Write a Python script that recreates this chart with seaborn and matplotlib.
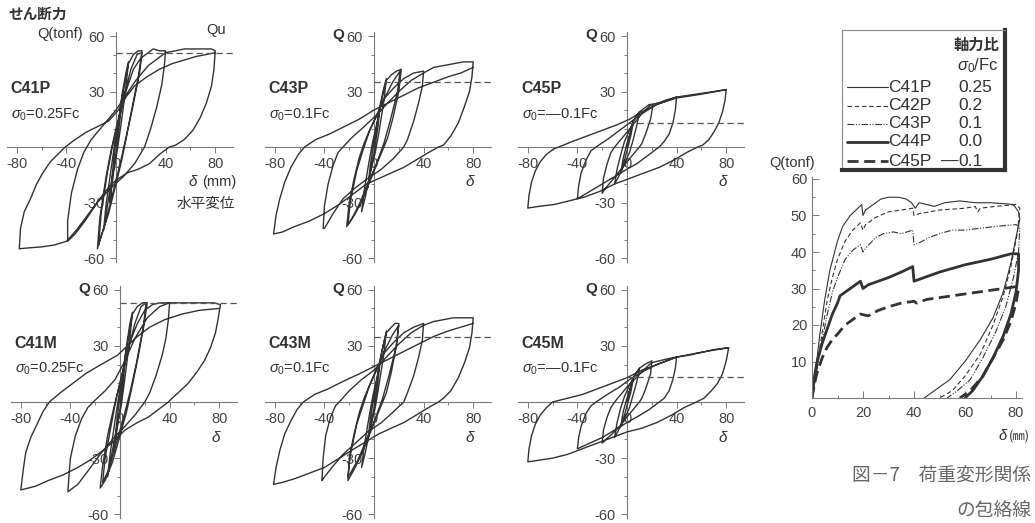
import matplotlib
matplotlib.use("Agg")
import matplotlib.pyplot as plt
import seaborn as sns
import pandas as pd
from matplotlib.ticker import MultipleLocator, FixedLocator

# ---------------- data (hysteresis paths: (delta mm, Q tonf)) ----------------
C41P_path = [(0,0),(2,12),(5,28),(3,14),(0,-4),(-2,-14),(-5,-30),(-3,-15),(0,4),(2,14),(5,29),
    (8,40),(10,46),(8,32),(4,12),(1,-2),(-3,-16),(-7,-32),(-10,-45),(-8,-31),(-4,-12),(-1,2),(3,16),(7,34),(10,45),
    (14,50),(18,52),(21,52),(18,38),(12,18),(8,4),(5,-6),(0,-20),(-6,-36),(-12,-48),(-15,-55),(-13,-38),(-8,-16),
    (-4,-2),(0,10),(6,26),(12,42),(17,50),(21,51),(19,40),(13,20),(8,5),(3,-10),(-3,-26),(-9,-42),(-14,-53),
    (-12,-36),(-7,-14),(-3,0),(2,14),(8,30),
    (14,42),(20,48),(26,51),(30,53),(35,52),(40,52),(39,44),(37,34),(33,22),(28,10),(23,0),(15,-9),(6,-16),
    (-4,-22),(-15,-30),(-25,-40),(-33,-47),(-39,-51),(-39,-40),(-36,-25),(-31,-12),(-26,-3),(-20,4),(-10,12),
    (0,20),(8,28),(16,36),(26,44),(34,48),(40,51),
    (48,52),(55,53),(62,53),(70,53),(77,53),(80,52),(79,42),(77,33),(73,24),(68,16),(62,9),(55,4),(48,1),(43,0),
    (35,-4),(27,-9),(18,-12),(9,-14),(0,-18),(-5,-21),(-13,-28),(-22,-36),(-32,-45),(-40,-51),(-50,-53),
    (-60,-54),(-70,-54.5),(-78,-55),(-77,-44),(-74,-35),(-69,-28),(-64,-20),(-59,-14),(-53,-8),(-47,-4),
    (-41,0),(-33,4),(-24,8),(-15,11),(-6,14),(2,20),(8,27),(15,33),(25,38),(35,42),(45,45),(55,47),(65,49),
    (73,50),(80,51)]

C43P_path = [(0,0),(2,10),(5,22),(3,10),(0,-3),(-2,-10),(-5,-22),(-3,-10),(0,3),(3,14),(5,23),
    (8,32),(10,37),(8,25),(4,8),(1,-3),(-3,-14),(-7,-27),(-10,-35),(-8,-24),(-4,-8),(-1,3),(3,15),(7,28),(10,36),
    (14,39),(18,41),(22,42),(20,30),(15,15),(11,5),(8,0),(3,-8),(-3,-18),(-9,-28),(-15,-36),(-20,-41),(-22,-43),
    (-20,-30),(-16,-17),(-12,-6),(-8,2),(-3,10),(3,18),(9,27),(15,35),(21,41),(19,30),(13,14),(8,2),(2,-9),
    (-5,-20),(-12,-31),(-18,-39),(-21,-42),(-19,-29),(-14,-13),(-9,-2),(-4,8),(2,17),(8,26),
    (16,32),(24,37),(32,40),(40,41),(39,33),(36,24),(32,14),(27,4),(24,0),(16,-6),(6,-12),(-5,-17),(-15,-22),
    (-25,-28),(-33,-36),(-40,-44),(-41,-44),(-40,-32),(-37,-20),(-33,-10),(-29,-3),(-25,0),(-18,5),(-8,11),
    (0,16),(10,23),(20,30),(30,36),(40,40),
    (48,43),(56,44),(64,45),(72,46),(80,46),(79,38),(77,30),(73,22),(68,13),(62,6),(56,1),(52,0),(44,-3),
    (34,-7),(24,-11),(14,-14),(4,-17),(-6,-20),(-16,-25),(-28,-31),(-40,-36),(-52,-40),(-64,-43),(-74,-46),
    (-81,-47),(-79,-37),(-76,-28),(-72,-19),(-67,-11),(-61,-4),(-56,0),(-47,4),(-36,7),(-24,11),(-12,15),
    (0,20),(12,24),(24,28),(36,32),(48,35),(60,38),(70,40),(80,43)]

C45P_path = [(0,0),(2,6),(5,13),(3,6),(0,-2),(-2,-7),(-5,-14),(-3,-6),(0,2),(3,8),(5,14),
    (8,17),(10,19),(8,12),(5,4),(2,-3),(-2,-9),(-6,-15),(-10,-20),(-8,-12),(-5,-4),(-2,3),(2,9),(6,15),(10,19),
    (14,21),(18,23),(21,23),(19,15),(15,7),(12,2),(10,0),(5,-4),(0,-8),(-6,-13),(-12,-18),(-17,-22),(-20,-25),
    (-19,-17),(-16,-9),(-13,-3),(-10,0),(-5,4),(0,8),(6,13),(12,18),(18,22),(20,23),
    (26,24),(32,25.5),(40,27),(39,20),(37,13),(34,7),(30,3),(26,0),(18,-4),(8,-9),(0,-12),(-10,-16),(-20,-20),
    (-30,-24),(-40,-28),(-39,-21),(-37,-14),(-33,-7),(-29,-2),(-25,0),(-16,4),(-6,9),(2,13),(12,18),(24,23),
    (32,25),(40,27),
    (50,28),(60,29),(70,30),(80,31),(79,25),(77,19),(74,13),(70,8),(66,4),(61,1),(57,0),(48,-3),(38,-7),
    (26,-11),(14,-14),(2,-17),(-10,-20),(-22,-24),(-34,-27),(-46,-29),(-58,-31),(-70,-32),(-80,-33),(-79,-26),
    (-77,-19),(-74,-13),(-70,-8),(-65,-4),(-59,-1),(-55,0),(-44,3),(-32,6),(-20,9),(-8,12),(2,15),(12,19),
    (24,23),(40,26.5),(55,28),(68,29.5),(80,31)]

C41M_path = [(0,0),(2,12),(5,28),(3,14),(0,-4),(-2,-13),(-5,-27),(-3,-13),(0,4),(2,14),(5,29),
    (8,42),(10,48),(8,34),(4,13),(1,-2),(-3,-15),(-7,-29),(-10,-40),(-8,-28),(-4,-10),(-1,3),(3,17),(7,35),(10,47),
    (14,51),(18,53),(22,53),(19,40),(14,22),(9,6),(5,-6),(0,-18),(-6,-32),(-12,-42),(-16,-46),(-14,-34),
    (-10,-18),(-5,-3),(0,10),(6,26),(12,42),(17,51),(21,53),(19,41),(13,20),(8,5),(3,-8),(-3,-22),(-9,-36),
    (-14,-43),(-12,-30),(-7,-12),(-3,2),(2,16),(8,32),
    (14,42),(20,49),(26,52),(32,53),(40,53),(39,44),(37,34),(34,25),(29,14),(24,5),(20,0),(12,-7),(4,-13),
    (-6,-20),(-16,-28),(-26,-37),(-34,-44),(-42,-48),(-41,-38),(-40,-30),(-36,-18),(-31,-9),(-26,-3),(-20,1),
    (-12,6),(-4,12),(4,22),(12,34),(22,45),(32,51),(40,53),
    (50,53),(60,53),(70,53),(76,53),(81,52),(79,44),(77,37),(73,29),(68,22),(62,16),(55,10),(47,5),(42,2),
    (39,0),(31,-4),(23,-8),(14,-11),(4,-15),(-5,-21),(-14,-26),(-24,-31),(-34,-35),(-46,-39),(-58,-42),
    (-68,-45),(-80,-47),(-78,-36),(-76,-27),(-72,-19),(-67,-12),(-62,-5),(-57,0),(-48,5),(-38,10),(-28,15),
    (-18,19),(-10,22),(-2,25),(6,30),(14,35),(24,40),(36,44),(50,47),(64,49),(80,50)]

C43M_path = [(0,0),(2,10),(5,22),(3,10),(0,-3),(-2,-10),(-5,-21),(-3,-9),(0,3),(3,14),(5,23),
    (8,32),(10,38),(8,26),(4,9),(1,-3),(-3,-14),(-7,-27),(-10,-35),(-8,-24),(-4,-8),(-1,3),(3,15),(7,29),(10,37),
    (14,40),(17,42),(20,42),(18,30),(14,16),(10,5),(7,0),(2,-8),(-4,-18),(-10,-28),(-16,-36),(-21,-42),
    (-20,-30),(-16,-17),(-12,-6),(-8,2),(-3,10),(3,19),(9,28),(15,36),(20,41),(18,30),(12,14),(7,2),(1,-9),
    (-6,-20),(-13,-31),(-19,-38),(-21,-40),(-19,-28),(-14,-12),(-9,-2),(-4,8),(2,17),(8,26),
    (16,32),(24,37),(32,40),(40,42),(39,33),(36,24),(32,14),(27,5),(24,0),(16,-5),(6,-11),(-5,-16),(-15,-22),
    (-25,-28),(-34,-35),(-41,-41),(-42,-42),(-41,-30),(-39,-18),(-35,-8),(-31,-2),(-28,0),(-20,6),(-10,12),
    (0,17),(10,24),(20,31),(30,37),(40,41),
    (48,43),(56,44),(64,45),(72,45),(80,45),(79,37),(77,29),(73,21),(68,13),(62,6),(56,2),(52,0),(44,-3),
    (34,-7),(24,-11),(14,-14),(4,-17),(-6,-21),(-16,-25),(-28,-30),(-40,-35),(-52,-38),(-64,-41),(-74,-43),
    (-81,-44),(-79,-35),(-76,-26),(-72,-17),(-67,-10),(-62,-4),(-57,0),(-48,4),(-37,7),(-25,11),(-12,15),
    (0,19),(12,23),(24,27),(36,31),(48,35),(60,38),(70,40),(80,42)]

C45M_path = [(0,0),(2,6),(5,12),(3,5),(0,-2),(-2,-7),(-5,-13),(-3,-5),(0,2),(3,8),(5,13),
    (8,16),(10,18),(8,11),(5,4),(2,-3),(-2,-9),(-6,-14),(-10,-19),(-8,-11),(-5,-3),(-2,3),(2,9),(6,14),(10,18),
    (14,20),(17,21),(20,22),(19,15),(15,7),(12,2),(10,0),(5,-4),(0,-8),(-6,-13),(-12,-17),(-17,-20),(-20,-22),
    (-19,-15),(-16,-8),(-13,-3),(-10,0),(-5,4),(0,8),(6,12),(12,16),(18,20),(20,21),
    (26,22),(32,23),(40,24),(39,18),(37,12),(34,6),(30,2),(26,0),(18,-4),(8,-8),(0,-11),(-10,-15),(-20,-19),
    (-30,-22),(-40,-25),(-39,-19),(-37,-13),(-33,-6),(-29,-2),(-25,0),(-16,4),(-6,8),(2,12),(12,16),(24,20),
    (32,22),(40,24),
    (50,25),(60,26.5),(70,28),(82,29),(80,22),(77,15),(73,10),(68,6),(62,2),(56,0),(46,-3),(36,-7),(24,-11),
    (12,-14),(0,-16),(-12,-19),(-24,-22),(-36,-25),(-48,-28),(-60,-30),(-70,-31),(-80,-32),(-79,-25),(-77,-18),
    (-74,-12),(-70,-7),(-65,-3),(-60,0),(-48,2),(-36,4),(-24,7),(-12,10),(0,13),(12,17),(24,20),(40,24),
    (55,26),(68,27.5),(82,29)]

panel_names = ["C41P", "C43P", "C45P", "C41M", "C43M", "C45M"]
panel_sigma = ["=0.25Fc", "=0.1Fc", "=\u20140.1Fc", "=0.25Fc", "=0.1Fc", "=\u20140.1Fc"]
panel_qu = [51, 35, 13, 53, 35, 13.5]
panel_paths = [C41P_path, C43P_path, C45P_path, C41M_path, C43M_path, C45M_path]

# envelope curves (right chart)
env_names = ["C41P", "C42P", "C43P", "C44P", "C45P"]
env_ratio = ["0.25", "0.2", "0.1", "0.0", "\u20140.1"]
C41P_env = [(0,0),(1,5),(2,11),(3,17),(5,27),(7,35),(10,43),(12,47),(15,50),(18,52),(19.5,53),(20,50),(21,51.5),
    (24,53),(27,54.5),(30,55),(34,55),(37,54.5),(39,53.5),(40.5,52),(42,53.5),(45,53),(48,52.5),(52,53.5),
    (58,54),(64,53.5),(70,53.5),(76,53.2),(79,53),(81,51),(81.5,49),(80,44),(78,37),(75,29),(71,22),(66,16),
    (60,10),(54,5),(48,2),(44,0)]
C42P_env = [(0,0),(1,4),(2,9),(4,18),(6,27),(8,33),(10,38),(13,43),(16,46),(19,48),(20,46),(21,47.5),(25,49.5),
    (30,51),(35,51.5),(39.5,52),(40,50),(42,50.5),(50,51.5),(60,52),(64,52.5),(65,51),(66,52),(72,52.5),
    (80,53),(81.5,52),(80.5,45),(78,36),(75,28),(71,20),(66,12),(60,6),(55,2),(50,0)]
C43P_env = [(0,0),(1,4),(2,8),(4,16),(6,23),(8,29),(10,33),(13,38),(16,40.5),(19,42),(20,40),(21,41),(25,44),
    (28,45),(32,45.5),(35,45),(39.5,46),(40,42),(42,42.5),(46,44),(50,45),(55,46),(60,46),(66,46.5),(72,47),
    (80,47.5),(81.5,47),(81,40),(79,33),(76,25),(72,18),(67,11),(62,5),(57,2),(53,0)]
C44P_env = [(0,0),(1,6),(2,10),(4,15),(6,19),(8,23),(10,26),(11,28),(13,29),(16,30.5),(19,32),(20,30),(22,31),
    (26,32),(30,33),(35,34.5),(39.5,36),(40,32),(42,32.5),(50,34.5),(60,36.5),(70,38),(78,39.5),(81,39.5),
    (81,35),(80,29),(78,23),(75,17),(71,11),(67,6),(63,2),(60,0)]
C45P_env = [(0,0),(1,4),(2,7),(4,11),(6,14),(8,16),(10,17.5),(13,20),(16,21.5),(19,23),(22,22.5),(26,24),
    (30,25),(35,26),(40,26.5),(41,26),(45,27),(50,27.5),(60,28.5),(70,29.5),(80,30.5),(81,30),(80,26),
    (78,21),(75,16),(71,11),(67,6),(62,2),(58,0)]
env_paths = [C41P_env, C42P_env, C43P_env, C44P_env, C45P_env]
env_lw = [0.8, 0.8, 0.8, 2.0, 2.0]
env_dash = [None, (4, 2.5), (6, 1.5, 1, 1.5, 1, 1.5), None, (4, 2)]

# ---------------- style ----------------
sns.set_theme(style="white")
plt.rcParams["font.family"] = ["Liberation Sans", "Noto Sans CJK JP", "DejaVu Sans"]
plt.rcParams["mathtext.fontset"] = "custom"
plt.rcParams["mathtext.rm"] = "Liberation Sans"
plt.rcParams["mathtext.it"] = "Liberation Sans:italic"
plt.rcParams["mathtext.bf"] = "Liberation Sans:bold"
plt.rcParams["axes.unicode_minus"] = False

INK = "#333333"
TXT = "#333333"
AX = "#7a7a7a"
W, H = 1035, 523
fig = plt.figure(figsize=(W / 100, H / 100), dpi=100)
fig.patch.set_facecolor("white")


def px_axes(left, top, width, height):
    return fig.add_axes([left / W, 1 - (top + height) / H, width / W, height / H])


# panel layout: (y-axis pixel x, top pixel, height pixel)
XMIN, XMAX, YLIM = -88, 94, 62
px_per_mm = 1.24
layout = [(116, 32.3, 229.4), (374, 32.3, 229.4), (627, 32.3, 229.4),
          (120, 286, 232), (374, 286, 232), (627, 286, 232)]

for i, (name, sig, qu, path) in enumerate(zip(panel_names, panel_sigma, panel_qu, panel_paths)):
    x0, top, hgt = layout[i]
    ax = px_axes(x0 + XMIN * px_per_mm, top, (XMAX - XMIN) * px_per_mm, hgt)
    ax.set_facecolor("none")
    df = pd.DataFrame(path, columns=["d", "q"])
    sns.lineplot(data=df, x="d", y="q", sort=False, estimator=None, ax=ax,
                 color=INK, lw=1.0, zorder=3)
    ql = pd.DataFrame({"d": [0, XMAX], "q": [qu, qu]})
    sns.lineplot(data=ql, x="d", y="q", sort=False, estimator=None, ax=ax,
                 color="#555555", lw=0.9, zorder=3)
    ax.lines[-1].set_dashes((5, 3))
    ax.set_xlim(XMIN, XMAX)
    ax.set_ylim(-YLIM, YLIM)
    ax.set_xlabel("")
    ax.set_ylabel("")
    for s in ["top", "right"]:
        ax.spines[s].set_visible(False)
    ax.spines["left"].set_position(("data", 0))
    ax.spines["bottom"].set_position(("data", 0))
    for s in ["left", "bottom"]:
        ax.spines[s].set_color(AX)
        ax.spines[s].set_linewidth(0.8)
        ax.spines[s].set_zorder(1)
    ax.set_axisbelow(True)
    ax.yaxis.set_major_locator(FixedLocator([-60, -30, 30, 60]))
    ax.set_yticklabels(["-60", "-30", "30", "60"])
    ax.yaxis.set_minor_locator(MultipleLocator(10))
    ax.xaxis.set_major_locator(FixedLocator([-80, -40, 0, 40, 80]))
    ax.set_xticklabels(["-80", "-40", "0", "40", "80"])
    ax.xaxis.set_minor_locator(MultipleLocator(20))
    ax.tick_params(which="both", direction="out", color=AX, width=0.7,
                   labelsize=10.5, labelcolor="#444444", left=True, bottom=True)
    ax.tick_params(which="major", length=4)
    ax.tick_params(which="minor", length=2.5)
    ax.tick_params(axis="y", pad=4)
    ax.tick_params(axis="x", pad=3)
    ax.grid(False)

    ax.text(-85, 31.5, name, fontsize=11.5, fontweight="bold", color=TXT, ha="left", va="center")
    ax.text(-85, 17.5, r"$\sigma_{0}$" + sig, fontsize=10.5, color=TXT, ha="left", va="center")
    if i == 0:
        ax.text(-27, 61, "Q(tonf)", fontsize=10.5, color=TXT, ha="right", va="center", clip_on=False)
        ax.text(-63, 72, "せん断力", fontsize=10.5, color=TXT, ha="center", va="center",
                fontweight="bold", family=["Noto Sans CJK JP"], clip_on=False)
        ax.text(81, 63, "Qu", fontsize=10.5, color=TXT, ha="center", va="center", clip_on=False)
        ax.text(97, -19, "(mm)", fontsize=10.5, color=TXT, ha="right", va="center", clip_on=False)
        ax.text(65, -19, "δ", fontsize=11, color=TXT, ha="right", va="center", style="italic", clip_on=False)
        ax.text(96, -31, "水平変位", fontsize=10.5, color=TXT, ha="right", va="center",
                family=["Noto Sans CJK JP"], clip_on=False)
    else:
        ax.text(-24, 60.5, "Q", fontsize=11, fontweight="bold", color=TXT, ha="right", va="center", clip_on=False)
        ax.text(77, -19, "δ", fontsize=11, color=TXT, ha="center", va="center", style="italic", clip_on=False)

# ---------------- envelope chart ----------------
XPX, YPX = 2.55, 3.65
axr = px_axes(812, 398 - 60.5 * YPX, 82.5 * XPX, 60.5 * YPX)
axr.set_facecolor("none")
for name, path, lw, dash in zip(env_names, env_paths, env_lw, env_dash):
    df = pd.DataFrame(path, columns=["d", "q"])
    sns.lineplot(data=df, x="d", y="q", sort=False, estimator=None, ax=axr, color=INK, lw=lw)
    if dash is not None:
        axr.lines[-1].set_dashes(dash)
axr.set_xlim(0, 82.5)
axr.set_ylim(0, 60.5)
axr.set_xlabel("")
axr.set_ylabel("")
for s in ["top", "right"]:
    axr.spines[s].set_visible(False)
for s in ["left", "bottom"]:
    axr.spines[s].set_color(AX)
    axr.spines[s].set_linewidth(0.8)
axr.xaxis.set_major_locator(FixedLocator([0, 20, 40, 60, 80]))
axr.xaxis.set_minor_locator(MultipleLocator(10))
axr.yaxis.set_major_locator(FixedLocator([10, 20, 30, 40, 50, 60]))
axr.yaxis.set_minor_locator(MultipleLocator(5))
axr.tick_params(which="both", direction="in", color=AX, width=0.7, labelsize=10.5,
                labelcolor="#444444", left=True, bottom=True)
axr.tick_params(which="major", length=5)
axr.tick_params(which="minor", length=2.5)
axr.tick_params(axis="x", pad=6)
axr.grid(False)
axr.text(-8, 64.5, "Q(tonf)", fontsize=10.5, color=TXT, ha="center", va="center", clip_on=False)
axr.text(85.5, -10.4, "(㎜)", fontsize=9, color=TXT, ha="right", va="center",
         family=["Noto Sans CJK JP"], clip_on=False)
axr.text(76.5, -10.4, "δ", fontsize=10.5, color=TXT, ha="right", va="center", style="italic", clip_on=False)

# ---------------- legend box ----------------
axl = px_axes(842, 30, 163, 140)
axl.set_xlim(0, 163)
axl.set_ylim(140, 0)
axl.set_xticks([])
axl.set_yticks([])
axl.set_facecolor("white")
for s in ["left", "top"]:
    axl.spines[s].set_color("#888888")
    axl.spines[s].set_linewidth(0.8)
for s in ["right", "bottom"]:
    axl.spines[s].set_color("#333333")
    axl.spines[s].set_linewidth(3.0)
axl.text(157, 15, "軸力比", fontsize=11, fontweight="bold", color=TXT, ha="right", va="center",
         family=["Noto Sans CJK JP"])
axl.text(157, 36, r"$\sigma_{0}$/Fc", fontsize=12, color=TXT, ha="right", va="center")
row_y = [57, 76, 94, 112, 131]
for name, ratio, lw, dash, yy in zip(env_names, env_ratio, env_lw, env_dash, row_y):
    axl.plot([5, 46], [yy, yy], color=INK, lw=lw)
    if dash is not None:
        axl.lines[-1].set_dashes(dash)
    axl.text(46, yy, name, fontsize=12.5, color=TXT, ha="left", va="center")
    if ratio.startswith("\u2014"):
        axl.text(116, yy, "\u2014", fontsize=12.5, color=TXT, ha="right", va="center")
        ratio = ratio[1:]
    axl.text(116, yy, ratio, fontsize=12.5, color=TXT, ha="left", va="center")

# ---------------- caption ----------------
fig.text(1031 / W, 1 - 476 / H, "図－7　荷重変形関係", fontsize=13.5, color="#666666",
         ha="right", va="center", family=["Noto Sans CJK JP"])
fig.text(1031 / W, 1 - 510 / H, "の包絡線", fontsize=13.5, color="#666666",
         ha="right", va="center", family=["Noto Sans CJK JP"])

fig.savefig("out.png", dpi=100, facecolor="white")
